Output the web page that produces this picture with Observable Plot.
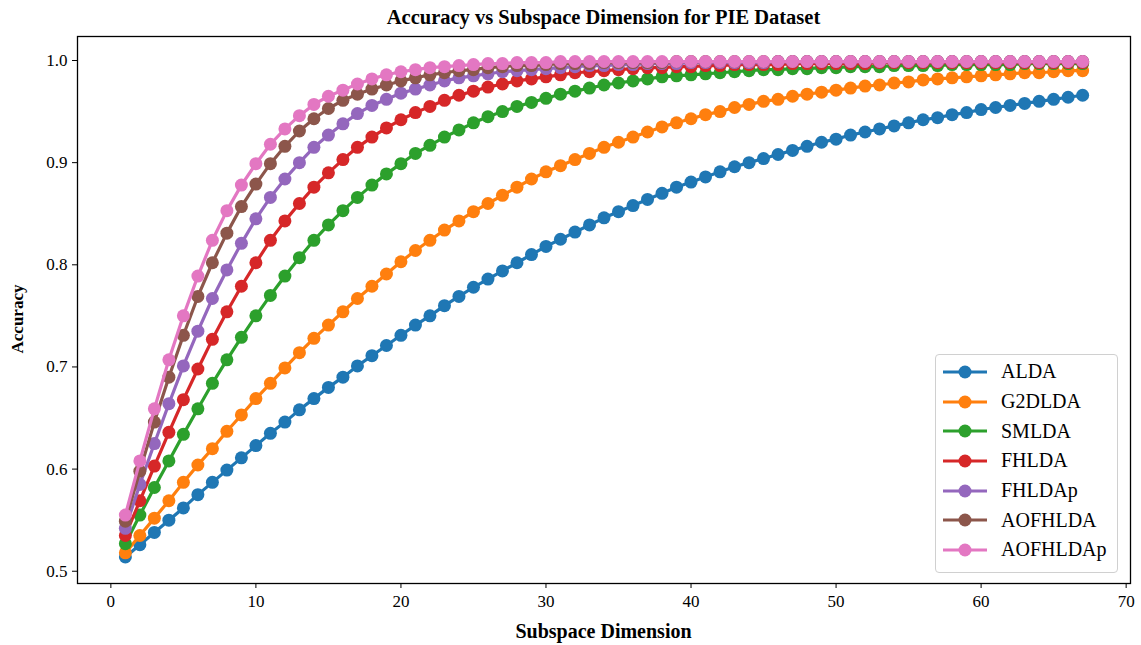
<!DOCTYPE html>
<html><head><meta charset="utf-8">
<script src="https://cdn.jsdelivr.net/npm/d3@7"></script>
<script src="https://cdn.jsdelivr.net/npm/@observablehq/plot@0.6"></script>
<style>
body{margin:0;background:#fff;font-family:"Liberation Serif","Times New Roman",serif;color:#000;}
#wrap{position:relative;width:1141px;height:645px;}
#title{height:30px;box-sizing:border-box;padding-top:5px;margin-left:77px;width:1053px;text-align:center;font-weight:bold;font-size:20.5px;line-height:24px;}
#ylab{position:absolute;left:18px;top:319px;transform:translate(-50%,-50%) rotate(-90deg);font-weight:bold;font-size:17px;white-space:nowrap;}
#xlab{position:absolute;left:77px;width:1053px;top:619px;text-align:center;font-weight:bold;font-size:20px;line-height:24px;}
#legend{position:absolute;left:935px;top:354px;width:183px;height:219px;border:1px solid #d0d0d0;border-radius:4px;background:rgba(255,255,255,0.8);box-sizing:border-box;padding-top:2px;}
.row{height:29.7px;display:flex;align-items:center;font-size:20px;}
.row svg{margin-left:7px;margin-right:14px;}
</style></head>
<body><div id="wrap">
<div id="title">Accuracy vs Subspace Dimension for PIE Dataset</div>
<div id="chart"></div>
<div id="ylab">Accuracy</div>
<div id="xlab">Subspace Dimension</div>
<div id="legend"></div>
</div>
<script>
const names = ["ALDA","G2DLDA","SMLDA","FHLDA","FHLDAp","AOFHLDA","AOFHLDAp"];
const colors = ["#1f77b4","#ff7f0e","#2ca02c","#d62728","#9467bd","#8c564b","#e377c2"];
const dims = Array.from({length:67},(_, i)=>i+1);
const xTicks = [0,10,20,30,40,50,60,70];
const yTicks = [0.5,0.6,0.7,0.8,0.9,1.0];

const alda = [0.514,0.526,0.538,0.550,0.562,0.575,0.587,0.599,0.611,0.623,
0.635,0.646,0.658,0.669,0.680,0.690,0.701,0.711,0.721,0.731,
0.741,0.750,0.760,0.769,0.778,0.786,0.794,0.802,0.810,0.818,
0.825,0.832,0.839,0.846,0.852,0.858,0.864,0.870,0.876,0.881,
0.886,0.891,0.896,0.900,0.904,0.908,0.912,0.916,0.920,0.923,
0.927,0.930,0.933,0.936,0.939,0.942,0.944,0.947,0.949,0.952,
0.954,0.956,0.958,0.960,0.962,0.964,0.966];
const g2dlda = [0.518,0.535,0.552,0.569,0.587,0.604,0.620,0.637,0.653,0.669,
0.684,0.699,0.714,0.728,0.741,0.754,0.767,0.779,0.791,0.803,
0.814,0.824,0.834,0.843,0.852,0.860,0.868,0.876,0.884,0.891,
0.897,0.903,0.909,0.915,0.920,0.925,0.930,0.935,0.939,0.943,
0.947,0.950,0.954,0.957,0.960,0.962,0.965,0.967,0.969,0.971,
0.973,0.975,0.976,0.978,0.979,0.981,0.982,0.983,0.984,0.985,
0.986,0.987,0.988,0.988,0.989,0.990,0.990];
const smlda = [0.527,0.555,0.582,0.608,0.634,0.659,0.684,0.707,0.729,0.750,
0.770,0.789,0.807,0.824,0.839,0.853,0.866,0.878,0.889,0.899,
0.909,0.917,0.925,0.932,0.939,0.945,0.950,0.955,0.959,0.963,
0.967,0.970,0.973,0.976,0.978,0.980,0.982,0.984,0.985,0.986,
0.987,0.988,0.989,0.990,0.991,0.991,0.992,0.992,0.993,0.993,
0.994,0.994,0.994,0.995,0.995,0.995,0.995,0.996,0.996,0.996,
0.996,0.996,0.997,0.997,0.997,0.997,0.997];
const fhlda = [0.535,0.569,0.603,0.636,0.668,0.698,0.727,0.754,0.779,0.802,
0.824,0.843,0.860,0.876,0.890,0.903,0.915,0.925,0.934,0.942,
0.949,0.955,0.961,0.966,0.970,0.974,0.977,0.980,0.982,0.984,
0.986,0.988,0.989,0.990,0.991,0.992,0.993,0.993,0.994,0.994,
0.995,0.995,0.996,0.996,0.996,0.996,0.997,0.997,0.997,0.997,
0.997,0.997,0.998,0.998,0.998,0.998,0.998,0.998,0.998,0.998,
0.998,0.998,0.998,0.998,0.998,0.998,0.998];
const fhldap = [0.542,0.585,0.625,0.664,0.701,0.735,0.767,0.795,0.821,0.845,
0.866,0.884,0.900,0.915,0.927,0.938,0.948,0.956,0.962,0.968,
0.972,0.976,0.980,0.983,0.985,0.987,0.989,0.990,0.991,0.992,
0.993,0.994,0.995,0.995,0.996,0.996,0.997,0.997,0.997,0.998,
0.998,0.998,0.998,0.998,0.998,0.999,0.999,0.999,0.999,0.999,
0.999,0.999,0.999,0.999,0.999,0.999,0.999,0.999,0.999,0.999,
0.999,0.999,0.999,0.999,0.999,0.999,0.999];
const aofhlda = [0.549,0.598,0.646,0.690,0.731,0.769,0.802,0.831,0.857,0.879,
0.899,0.916,0.931,0.943,0.953,0.961,0.967,0.972,0.976,0.980,
0.983,0.986,0.988,0.990,0.991,0.993,0.994,0.995,0.995,0.996,
0.997,0.997,0.997,0.998,0.998,0.998,0.998,0.998,0.999,0.999,
0.999,0.999,0.999,0.999,0.999,0.999,0.999,0.999,0.999,0.999,
0.999,0.999,0.999,0.999,0.999,0.999,0.999,0.999,0.999,0.999,
0.999,0.999,0.999,0.999,0.999,0.999,0.999];
const aofhldap = [0.555,0.608,0.659,0.707,0.750,0.789,0.824,0.853,0.878,0.899,
0.918,0.933,0.946,0.957,0.965,0.971,0.977,0.982,0.986,0.989,
0.991,0.993,0.994,0.995,0.996,0.997,0.997,0.998,0.998,0.998,
0.999,0.999,0.999,0.999,0.999,0.999,0.999,0.999,0.999,0.999,
0.999,0.999,0.999,0.999,0.999,0.999,0.999,0.999,0.999,0.999,
0.999,0.999,0.999,0.999,0.999,0.999,0.999,0.999,0.999,0.999,
0.999,0.999,0.999,0.999,0.999,0.999,0.999];

const values = [alda,g2dlda,smlda,fhlda,fhldap,aofhlda,aofhldap];

const marks = [];
values.forEach((vals,i)=>{
  const data = dims.map((d,j)=>({dim:d, acc:vals[j]}));
  marks.push(Plot.line(data,{x:"dim",y:"acc",stroke:colors[i],strokeWidth:3.2}));
  marks.push(Plot.dot(data,{x:"dim",y:"acc",fill:colors[i],r:6.5}));
});

const chart = Plot.plot({
  width:1141, height:615,
  marginLeft:77, marginRight:11, marginTop:6, marginBottom:62,
  style:{fontFamily:'"Liberation Serif","Times New Roman",serif', fontSize:"17px", color:"#000", background:"#fff"},
  x:{domain:[-2.3,70.3]},
  y:{domain:[0.488,1.0235]},
  marks:[
    ...marks,
    Plot.axisX({ticks:xTicks, tickSize:5, tickPadding:6, fontSize:17, label:null}),
    Plot.axisY({ticks:yTicks, tickSize:5, tickPadding:5, fontSize:17, tickFormat:d3.format(".1f"), label:null}),
    Plot.frame({stroke:"#000", strokeWidth:1.3})
  ]
});
document.getElementById("chart").appendChild(chart);

const leg = document.getElementById("legend");
names.forEach((n,i)=>{
  const row = document.createElement("div");
  row.className="row";
  row.innerHTML = `<svg width="44" height="16"><line x1="0" y1="8" x2="44" y2="8" stroke="${colors[i]}" stroke-width="3.2"/><circle cx="22" cy="8" r="6.5" fill="${colors[i]}"/></svg><span>${n}</span>`;
  leg.appendChild(row);
});
</script>
</body></html>
